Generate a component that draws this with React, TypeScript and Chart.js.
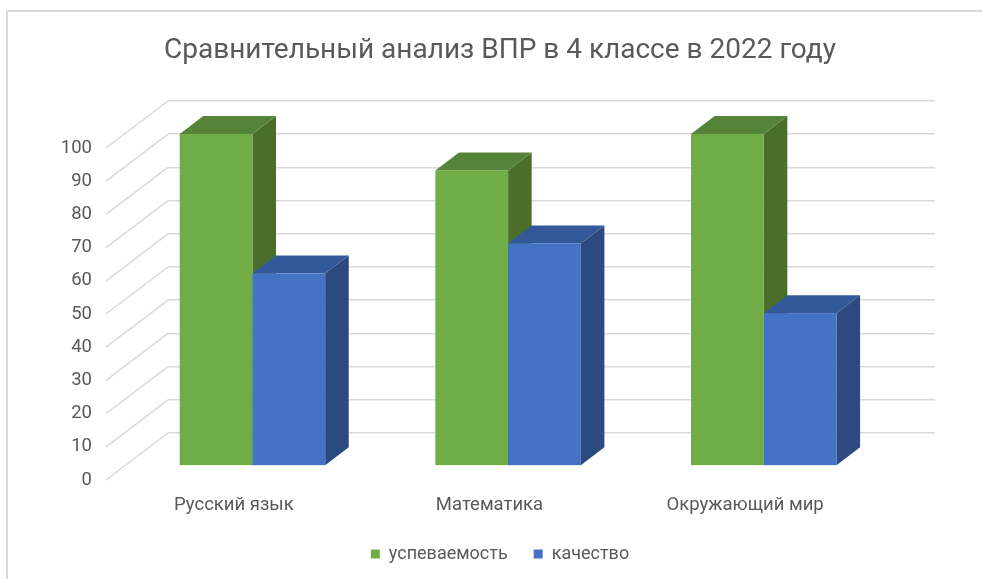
import React, { useEffect, useRef } from "react";
import { Chart, registerables } from "chart.js";

Chart.register(...registerables);

const TITLE = "Сравнительный анализ ВПР в 4 классе в 2022 году";
const categories = ["Русский язык", "Математика", "Окружающий мир"];
const seriesNames = ["успеваемость", "качество"];
const uspevaemost = [100, 89, 100];
const kachestvo = [58, 67, 46];
const Y_MIN = 0;
const Y_MAX = 100;
const Y_STEP = 10;

const FRONT_COLORS = ["#70AD47", "#4472C4"];
const TOP_COLORS = ["#56833A", "#33589A"];
const SIDE_COLORS = ["#4A6E2C", "#2C4A7F"];
const TEXT = "#595959";
const GRID = "#d9d9d9";
const DEPTH_X = 62;
const DEPTH_Y = 47;
const BAR_FRONT = 0.7;
const BAR_BACK = 0.32;

const threeD = {
  id: "threeD",
  beforeDraw(chart: any) {
    const ctx = chart.ctx;
    ctx.save();
    ctx.strokeStyle = GRID;
    ctx.lineWidth = 2;
    ctx.beginPath();
    ctx.moveTo(7, chart.height);
    ctx.lineTo(7, 11);
    ctx.lineTo(chart.width, 11);
    ctx.stroke();
    ctx.restore();
  },
  beforeDatasetsDraw(chart: any) {
    const ctx = chart.ctx;
    const ys = chart.scales.y;
    const area = chart.chartArea;
    ctx.save();
    ctx.strokeStyle = GRID;
    ctx.lineWidth = 1.5;
    ys.ticks.forEach((t: any) => {
      const py = ys.getPixelForValue(t.value);
      ctx.beginPath();
      ctx.moveTo(area.left, py);
      ctx.lineTo(area.left - DEPTH_X, py + DEPTH_Y);
      ctx.stroke();
    });
    const fx = -DEPTH_X * BAR_FRONT, fy = DEPTH_Y * BAR_FRONT;
    const bx = -DEPTH_X * BAR_BACK, by = DEPTH_Y * BAR_BACK;
    const poly = (pts: number[][], color: string) => {
      ctx.fillStyle = color;
      ctx.beginPath();
      ctx.moveTo(pts[0][0], pts[0][1]);
      for (let k = 1; k < pts.length; k++) ctx.lineTo(pts[k][0], pts[k][1]);
      ctx.closePath();
      ctx.fill();
    };
    const n = chart.data.labels.length;
    for (let i = 0; i < n; i++) {
      for (let d = 0; d < chart.data.datasets.length; d++) {
        const el = chart.getDatasetMeta(d).data[i];
        if (!el) continue;
        const { x, y, base, width } = el.getProps(["x", "y", "base", "width"], true);
        const l = x - width / 2, r = x + width / 2;
        poly([[r + fx, y + fy], [r + bx, y + by], [r + bx, base + by], [r + fx, base + fy]], SIDE_COLORS[d]);
        poly([[l + fx, y + fy], [r + fx, y + fy], [r + bx, y + by], [l + bx, y + by]], TOP_COLORS[d]);
        ctx.fillStyle = FRONT_COLORS[d];
        ctx.fillRect(l + fx, y + fy, width, base - y);
      }
    }
    ctx.restore();
    return false;
  },
};

export default function App() {
  const ref = useRef<HTMLCanvasElement | null>(null);
  useEffect(() => {
    if (!ref.current) return;
    Chart.defaults.font.family = "Roboto, 'Noto Sans', sans-serif";
    const chart = new Chart(ref.current, {
      type: "bar",
      data: {
        labels: categories,
        datasets: [
          { label: seriesNames[0], data: uspevaemost, backgroundColor: FRONT_COLORS[0] },
          { label: seriesNames[1], data: kachestvo, backgroundColor: FRONT_COLORS[1] },
        ],
      },
      options: {
        responsive: false,
        animation: false,
        devicePixelRatio: 1,
        categoryPercentage: 0.569,
        barPercentage: 1,
        layout: { padding: { top: 0, left: 18, right: 0, bottom: 6 } },
        plugins: {
          title: {
            display: true,
            text: TITLE,
            color: TEXT,
            font: { size: 28, weight: "normal" },
            padding: { top: 34.5, bottom: 32.9 },
          },
          legend: {
            position: "bottom",
            labels: { color: TEXT, font: { size: 18 }, boxWidth: 9, boxHeight: 9, padding: 26 },
          },
          tooltip: { enabled: false },
        },
        scales: {
          x: {
            grid: { display: false, drawTicks: false },
            border: { display: false },
            ticks: { color: TEXT, font: { size: 18.5 }, padding: 61, labelOffset: -DEPTH_X, maxRotation: 0, autoSkip: false },
            afterFit: (s: any) => { s.height = 86; s.paddingLeft = 0; s.paddingRight = 0; },
          },
          y: {
            min: Y_MIN,
            max: Y_MAX,
            ticks: { stepSize: Y_STEP, color: TEXT, font: { size: 18.5 }, padding: 76, labelOffset: DEPTH_Y },
            grid: { color: GRID, lineWidth: 1.5, drawTicks: false },
            border: { display: false },
            afterFit: (s: any) => { s.width = 150; s.paddingTop = 0; s.paddingBottom = 0; },
          },
          yRight: {
            position: "right",
            display: true,
            grid: { display: false, drawTicks: false },
            border: { display: false },
            ticks: { display: false },
            afterFit: (s: any) => { s.width = 47; s.paddingTop = 0; s.paddingBottom = 0; },
          },
        },
      } as any,
      plugins: [threeD],
    });
    return () => chart.destroy();
  }, []);
  return (
    <div style={{ position: "fixed", left: 0, top: 0, width: 982, height: 579, background: "#fff" }}>
      <canvas ref={ref} width={982} height={579} style={{ display: "block" }} />
    </div>
  );
}
